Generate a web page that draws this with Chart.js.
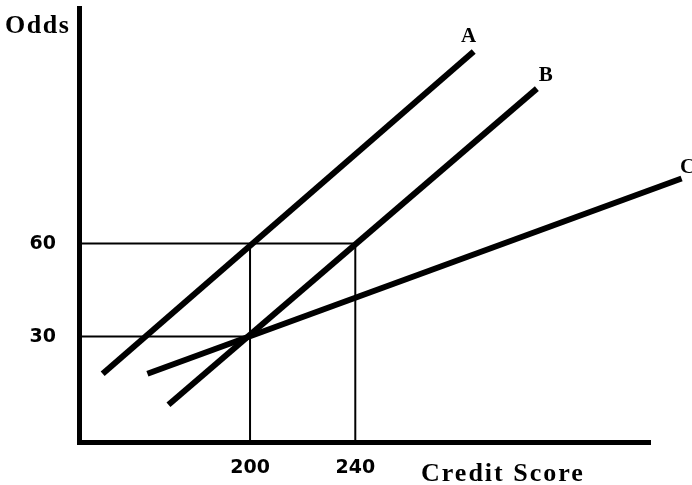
<!DOCTYPE html>
<html>
<head>
<meta charset="utf-8">
<script src="https://cdn.jsdelivr.net/npm/chart.js@4.4.1/dist/chart.umd.min.js"></script>
<style>
  body { margin: 0; background: #fff; }
</style>
</head>
<body>
<canvas id="chart" width="692" height="485"></canvas>
<script>
// Chart values
const lineNames = ['A', 'B', 'C'];
const startScore = [144, 169, 161];
const startOdds = [18, 8, 18];
const endScore = [285, 309, 364];
const endOdds = [122, 110, 81];

const scoreTicks = [200, 240];
const oddsTicks = [30, 60];

const scoreMin = 135, scoreMax = 352;
const oddsMin = -4, oddsMax = 136;

// Offsets of the A/B/C labels from the line ends
const labelOffsets = [[-5, -15], [9, -13], [6, -11]];

const datasets = [];

// guide lines: horizontals from the axis to each tick, verticals from the axis up to the top tick
scoreTicks.forEach((s, i) => {
    datasets.push({
        data: [{ x: scoreMin, y: oddsTicks[i] }, { x: s, y: oddsTicks[i] }],
        borderColor: '#000', borderWidth: 2
    });
    datasets.push({
        data: [{ x: s, y: oddsMin }, { x: s, y: oddsTicks[oddsTicks.length - 1] }],
        borderColor: '#000', borderWidth: 2
    });
});

lineNames.forEach((name, i) => {
    datasets.push({
        label: name,
        data: [{ x: startScore[i], y: startOdds[i] }, { x: endScore[i], y: endOdds[i] }],
        borderColor: '#000',
        borderWidth: 6,
        borderCapStyle: 'butt',
        clip: false
    });
});

const textPlugin = {
    id: 'texts',
    afterDraw(chart) {
        const ctx = chart.ctx;
        const xs = chart.scales.x, ys = chart.scales.y;
        ctx.save();
        ctx.fillStyle = '#000';
        ctx.textAlign = 'center';
        ctx.textBaseline = 'middle';
        ctx.font = 'bold 21px "Liberation Serif"';
        lineNames.forEach((name, i) => {
            const px = xs.getPixelForValue(endScore[i]) + labelOffsets[i][0];
            const py = ys.getPixelForValue(endOdds[i]) + labelOffsets[i][1];
            ctx.fillText(name, px, py);
        });
        ctx.font = 'bold 26px "Liberation Serif"';
        ctx.letterSpacing = '1.5px';
        ctx.textAlign = 'left';
        ctx.textBaseline = 'alphabetic';
        ctx.fillText('Odds', 5, 33);
        ctx.letterSpacing = '2px';
        ctx.fillText('Credit Score', 421, 481);
        ctx.restore();
    }
};

function noPad(s) {
    s.paddingTop = 0;
    s.paddingBottom = 0;
    s.paddingLeft = 0;
    s.paddingRight = 0;
}

new Chart(document.getElementById('chart'), {
    type: 'scatter',
    data: { datasets: datasets },
    options: {
        responsive: false,
        animation: false,
        showLine: true,
        elements: { point: { radius: 0, hoverRadius: 0 } },
        layout: { padding: { top: 8, right: 42, left: 0, bottom: 0 } },
        plugins: { legend: { display: false }, tooltip: { enabled: false } },
        scales: {
            x: {
                type: 'linear',
                min: scoreMin,
                max: scoreMax,
                afterBuildTicks: (s) => { s.ticks = scoreTicks.map(v => ({ value: v })); },
                afterFit: (s) => { s.height = 43; noPad(s); },
                grid: { display: false, drawTicks: false },
                border: { display: true, color: '#000', width: 5 },
                ticks: {
                    color: '#000',
                    padding: 15,
                    maxRotation: 0,
                    font: { family: '"DejaVu Sans"', size: 19, weight: 'bold' }
                }
            },
            y: {
                type: 'linear',
                min: oddsMin,
                max: oddsMax,
                afterBuildTicks: (s) => { s.ticks = oddsTicks.map(v => ({ value: v })); },
                afterFit: (s) => { s.width = 79; noPad(s); },
                grid: { display: false, drawTicks: false },
                border: { display: true, color: '#000', width: 5 },
                ticks: {
                    color: '#000',
                    padding: 23,
                    font: { family: '"DejaVu Sans"', size: 19, weight: 'bold' }
                }
            }
        }
    },
    plugins: [textPlugin]
});
</script>
</body>
</html>
